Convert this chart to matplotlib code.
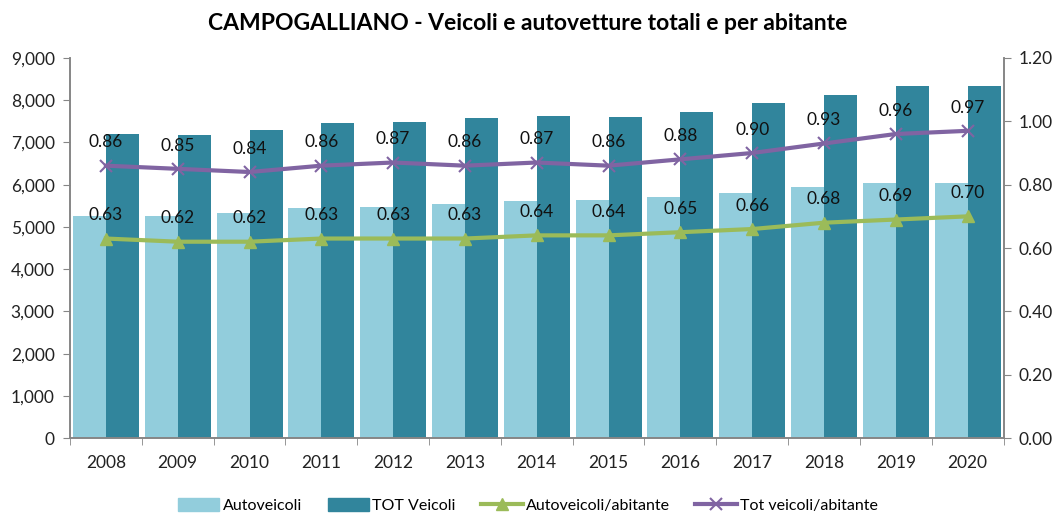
import matplotlib.pyplot as plt
import numpy as np
from matplotlib.lines import Line2D
from matplotlib.patches import Patch

plt.rcParams['font.family'] = ['Lato', 'DejaVu Sans']

years = ['2008', '2009', '2010', '2011', '2012', '2013', '2014',
         '2015', '2016', '2017', '2018', '2019', '2020']
autoveicoli = [5260, 5260, 5330, 5450, 5470, 5545, 5615,
               5640, 5710, 5800, 5950, 6040, 6040]
tot_veicoli = [7200, 7180, 7300, 7460, 7490, 7580, 7630,
               7600, 7720, 7940, 8130, 8340, 8340]
auto_per_ab = [0.63, 0.62, 0.62, 0.63, 0.63, 0.63, 0.64,
               0.64, 0.65, 0.66, 0.68, 0.69, 0.70]
tot_per_ab = [0.86, 0.85, 0.84, 0.86, 0.87, 0.86, 0.87,
              0.86, 0.88, 0.90, 0.93, 0.96, 0.97]

c_light = '#92CDDC'
c_dark = '#31859C'
c_green = '#9BBB59'
c_purple = '#8064A2'
c_axis = '#868686'

x = np.arange(len(years))
w = 0.46

fig = plt.figure(figsize=(10.56, 5.13), dpi=100)
ax = fig.add_axes([0.0663, 0.146, 0.884, 0.741])

ax.bar(x - w / 2, autoveicoli, width=w, color=c_light, zorder=2)
ax.bar(x + w / 2, tot_veicoli, width=w, color=c_dark, zorder=2)

ax.set_xlim(-0.5, len(years) - 0.5)
ax.set_ylim(0, 9000)
ax.set_yticks(range(0, 9001, 1000))
ax.set_yticklabels([f'{v:,}' for v in range(0, 9001, 1000)])
ax.set_xticks(x)
ax.set_xticklabels(years)
ax.set_xticks(np.arange(-0.5, len(years), 1), minor=True)
ax.tick_params(axis='x', which='major', length=0, pad=12, labelsize=12.5, colors='#222222')
ax.tick_params(axis='x', which='minor', length=5, color=c_axis)
ax.tick_params(axis='y', length=5, color=c_axis, labelsize=12.5, labelcolor='#222222', pad=6)

ax2 = ax.twinx()
ax2.set_ylim(0, 1.2)
ax2.set_yticks(np.arange(0, 1.21, 0.2))
ax2.set_yticklabels([f'{v:.2f}' for v in np.arange(0, 1.21, 0.2)])
ax2.tick_params(axis='y', length=5, color=c_axis, labelsize=12.5, labelcolor='#222222', pad=6)

ax2.plot(x, auto_per_ab, color=c_green, lw=3, marker='^', ms=9, zorder=3)
ax2.plot(x, tot_per_ab, color=c_purple, lw=3, marker='x', ms=9, mew=1.5, zorder=3)

# etichette dei valori sopra i punti
for serie in (auto_per_ab, tot_per_ab):
    for xi, v in zip(x, serie):
        ax2.annotate(f'{v:.2f}', (xi, v), xytext=(0, 11), textcoords='offset points',
                     ha='center', va='bottom', fontsize=12.5, color='#111111')

for a in (ax, ax2):
    a.spines['top'].set_visible(False)
    for s in ('left', 'right', 'bottom'):
        a.spines[s].set_color(c_axis)
        a.spines[s].set_linewidth(1.2)

fig.suptitle('CAMPOGALLIANO - Veicoli e autovetture totali e per abitante',
             x=0.5, y=0.975, fontsize=16.5, fontweight='bold')

handles = [
    Patch(color=c_light, label='Autoveicoli'),
    Patch(color=c_dark, label='TOT Veicoli'),
    Line2D([], [], color=c_green, lw=3, marker='^', ms=8, label='Autoveicoli/abitante'),
    Line2D([], [], color=c_purple, lw=3, marker='x', ms=8, mew=1.5, label='Tot veicoli/abitante'),
]
fig.legend(handles=handles, loc='center', bbox_to_anchor=(0.5, 0.015), ncol=4,
           frameon=False, fontsize=11.5, handlelength=2.6, columnspacing=1.6,
           handletextpad=0.2, handleheight=0.9)

fig.savefig('out.png', dpi=100)
